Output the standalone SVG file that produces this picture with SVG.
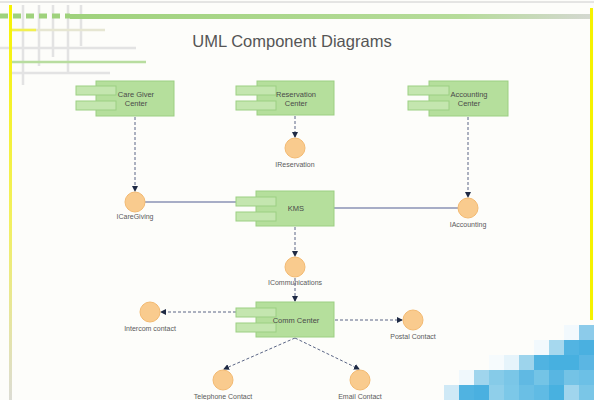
<svg xmlns="http://www.w3.org/2000/svg" width="594" height="400" viewBox="0 0 594 400">
<defs>
<linearGradient id="gbar" x1="0" y1="0" x2="1" y2="0">
<stop offset="0" stop-color="#9fd27c"/><stop offset="0.75" stop-color="#b6dc9a"/><stop offset="1" stop-color="#d4d8d0"/>
</linearGradient>
<linearGradient id="yl" x1="0" y1="0" x2="0" y2="1">
<stop offset="0" stop-color="#f7f300"/><stop offset="0.55" stop-color="#f2f060"/><stop offset="1" stop-color="#dcdcd4"/>
</linearGradient>
<marker id="ah" markerWidth="6" markerHeight="6" refX="5" refY="3" orient="auto" markerUnits="userSpaceOnUse">
<path d="M0,0 L6,3 L0,6 Z" fill="#1f2a44"/>
</marker>
<style>
.comp{fill:#b5df9c;stroke:#9ccf82;stroke-width:1}
.tab{fill:#c4e6af;stroke:#9ccf82;stroke-width:1}
.ifc{fill:#f9cb8e;stroke:#f3ba72;stroke-width:1}
.ct{font-family:"Liberation Sans",Arial,sans-serif;font-size:7.5px;fill:#4a4a4a;text-anchor:middle}
.lb{font-family:"Liberation Sans",Arial,sans-serif;font-size:7px;fill:#5a5a5a;text-anchor:middle}
.dash{stroke:#5a6585;stroke-width:1;stroke-dasharray:3,2;fill:none;marker-end:url(#ah)}
.solid{stroke:#8a92b4;stroke-width:1.3;fill:none}
.deco{stroke:#e3e3e3;stroke-width:2.5}
</style>
</defs>
<rect width="594" height="400" fill="#fdfdfa"/>
<g id="decor">
<line x1="0" y1="2" x2="594" y2="2" stroke="#cccccc" stroke-width="1"/>
<line x1="23" y1="5" x2="23" y2="85" class="deco"/>
<line x1="39" y1="5" x2="39" y2="66" class="deco"/>
<line x1="53" y1="5" x2="53" y2="57" class="deco"/>
<line x1="68" y1="5" x2="68" y2="73" class="deco"/>
<line x1="81" y1="5" x2="81" y2="46" class="deco"/>
<line x1="10" y1="30" x2="105" y2="30" stroke="#e6e6d2" stroke-width="2.5"/>
<line x1="10" y1="30" x2="36" y2="30" stroke="#f2f050" stroke-width="2.5"/>
<line x1="0" y1="48" x2="136" y2="48" class="deco"/>
<line x1="12" y1="62" x2="146" y2="62" stroke="#b8dd9f" stroke-width="2.5"/>
<line x1="10" y1="73" x2="110" y2="73" class="deco"/>
<line x1="0" y1="16" x2="70" y2="16" stroke="#9fd27c" stroke-width="5" stroke-dasharray="8,5"/>
<rect x="70" y="14" width="520" height="5" fill="url(#gbar)"/>
<rect x="9" y="5" width="3" height="395" fill="url(#yl)"/>
<rect x="590" y="8" width="3" height="312" fill="#f5f200"/>
</g>
<text x="292" y="47" font-family="'Liberation Sans',Arial,sans-serif" font-size="16.5" fill="#555" text-anchor="middle">UML Component Diagrams</text>
<g id="connectors">
<line x1="135" y1="117" x2="135" y2="191" class="dash"/>
<line x1="295" y1="116" x2="295" y2="137" class="dash"/>
<line x1="468" y1="117" x2="468" y2="197" class="dash"/>
<line x1="295" y1="227" x2="295" y2="256" class="dash"/>
<line x1="295" y1="278" x2="295" y2="301" class="dash"/>
<line x1="236" y1="312" x2="161" y2="312" class="dash"/>
<line x1="335" y1="320" x2="402" y2="320" class="dash"/>
<line x1="295" y1="338" x2="224" y2="369" class="dash"/>
<line x1="295" y1="338" x2="359" y2="369" class="dash"/>
<line x1="145" y1="202" x2="236" y2="202" class="solid"/>
<line x1="334" y1="208" x2="458" y2="208" class="solid"/>
</g>
<g id="care-giver-center">
<rect class="comp" x="96" y="81" width="78" height="35"/>
<rect class="tab" x="76" y="86" width="40" height="9"/>
<rect class="tab" x="76" y="101" width="40" height="9"/>
<text class="ct" x="136" y="97">Care Giver</text>
<text class="ct" x="136" y="106">Center</text>
</g>
<g id="reservation-center">
<rect class="comp" x="257" y="81" width="77" height="34"/>
<rect class="tab" x="236" y="86" width="40" height="9"/>
<rect class="tab" x="236" y="101" width="40" height="9"/>
<text class="ct" x="296" y="97">Reservation</text>
<text class="ct" x="296" y="106">Center</text>
</g>
<g id="accounting-center">
<rect class="comp" x="429" y="81" width="79" height="35"/>
<rect class="tab" x="408" y="86" width="41" height="9"/>
<rect class="tab" x="408" y="101" width="41" height="9"/>
<text class="ct" x="469" y="97">Accounting</text>
<text class="ct" x="469" y="106">Center</text>
</g>
<g id="ireservation">
<circle class="ifc" cx="295" cy="148" r="10"/>
<text class="lb" x="295" y="167">IReservation</text>
</g>
<g id="icaregiving">
<circle class="ifc" cx="135" cy="202" r="10"/>
<text class="lb" x="135" y="219">ICareGiving</text>
</g>
<g id="kms">
<rect class="comp" x="256" y="191" width="78" height="35"/>
<rect class="tab" x="236" y="197" width="40" height="9"/>
<rect class="tab" x="236" y="212" width="40" height="9"/>
<text class="ct" x="296" y="211">KMS</text>
</g>
<g id="iaccounting">
<circle class="ifc" cx="468" cy="208" r="10"/>
<text class="lb" x="468" y="227">IAccounting</text>
</g>
<g id="icommunications">
<circle class="ifc" cx="295" cy="267" r="10"/>
<text class="lb" x="295" y="285">ICommunications</text>
</g>
<g id="comm-center">
<rect class="comp" x="256" y="302" width="78" height="35"/>
<rect class="tab" x="236" y="308" width="40" height="9"/>
<rect class="tab" x="236" y="323" width="40" height="9"/>
<text class="ct" x="296" y="323">Comm Center</text>
</g>
<g id="intercom-contact">
<circle class="ifc" cx="150" cy="312" r="10"/>
<text class="lb" x="150" y="331">Intercom contact</text>
</g>
<g id="postal-contact">
<circle class="ifc" cx="413" cy="320" r="10"/>
<text class="lb" x="413" y="339">Postal Contact</text>
</g>
<g id="telephone-contact">
<circle class="ifc" cx="223" cy="380" r="10"/>
<text class="lb" x="223" y="399">Telephone Contact</text>
</g>
<g id="email-contact">
<circle class="ifc" cx="360" cy="380" r="10"/>
<text class="lb" x="360" y="399">Email Contact</text>
</g>
<g id="mosaic">
<rect x="564" y="325" width="15" height="15" fill="#f2f9fd"/>
<rect x="579" y="325" width="15" height="15" fill="#8ccbea"/>
<rect x="534" y="340" width="15" height="15" fill="#f2f9fd"/>
<rect x="549" y="340" width="15" height="15" fill="#a6d8ee"/>
<rect x="564" y="340" width="15" height="15" fill="#52b4e2"/>
<rect x="579" y="340" width="15" height="15" fill="#4ab0e0"/>
<rect x="489" y="355" width="15" height="15" fill="#f6fbfd"/>
<rect x="504" y="355" width="15" height="15" fill="#e6f4fb"/>
<rect x="519" y="355" width="15" height="15" fill="#9dd4ec"/>
<rect x="534" y="355" width="15" height="15" fill="#50b3e1"/>
<rect x="549" y="355" width="15" height="15" fill="#47b0e0"/>
<rect x="564" y="355" width="15" height="15" fill="#47b0e0"/>
<rect x="579" y="355" width="15" height="15" fill="#5bb6e3"/>
<rect x="459" y="370" width="15" height="15" fill="#f0f8fc"/>
<rect x="474" y="370" width="15" height="15" fill="#a0d5ed"/>
<rect x="489" y="370" width="15" height="15" fill="#86cbe8"/>
<rect x="504" y="370" width="15" height="15" fill="#7ac6e7"/>
<rect x="519" y="370" width="15" height="15" fill="#60b9e3"/>
<rect x="534" y="370" width="15" height="15" fill="#74c4e6"/>
<rect x="549" y="370" width="15" height="15" fill="#58b6e2"/>
<rect x="564" y="370" width="15" height="15" fill="#74c3e6"/>
<rect x="579" y="370" width="15" height="15" fill="#6cc0e6"/>
<rect x="444" y="385" width="15" height="15" fill="#cfe9f6"/>
<rect x="459" y="385" width="15" height="15" fill="#50b3e1"/>
<rect x="474" y="385" width="15" height="15" fill="#4ab0e0"/>
<rect x="489" y="385" width="15" height="15" fill="#8fcfea"/>
<rect x="504" y="385" width="15" height="15" fill="#7cc8e8"/>
<rect x="519" y="385" width="15" height="15" fill="#6abfe5"/>
<rect x="534" y="385" width="15" height="15" fill="#60bbe4"/>
<rect x="549" y="385" width="15" height="15" fill="#48b1e0"/>
<rect x="564" y="385" width="15" height="15" fill="#a0d5ed"/>
<rect x="579" y="385" width="15" height="15" fill="#7ac6e7"/>
</g>
</svg>
